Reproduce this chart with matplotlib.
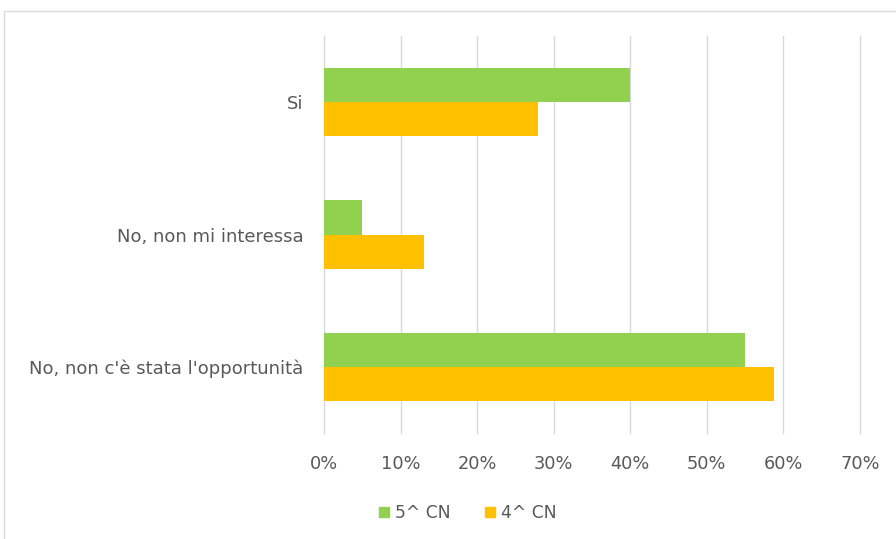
import matplotlib
matplotlib.use("Agg")
import matplotlib.pyplot as plt
from matplotlib.patches import Rectangle, Patch
import numpy as np

categories = ["Si", "No, non mi interessa", "No, non c'è stata l'opportunità"]
series_names = ["5^ CN", "4^ CN"]
values_5cn = [40, 5, 55]
values_4cn = [28, 13, 58.8]
xticks = [0, 10, 20, 30, 40, 50, 60, 70]
xtick_labels = ["0%", "10%", "20%", "30%", "40%", "50%", "60%", "70%"]

green = "#92D050"
orange = "#FFC000"
text_col = "#595959"
grid_col = "#D9D9D9"

plt.rcParams['font.family'] = ['DejaVu Sans']

fig = plt.figure(figsize=(8.96, 5.39), dpi=100)
fig.patch.set_facecolor("white")
# chart border
fig.patches.append(Rectangle((4/896, -0.01), 1.0, (539-11)/539 + 0.01, transform=fig.transFigure,
                             fill=False, edgecolor=grid_col, linewidth=1.0))

ax = fig.add_axes([324/896, (539-433)/539, (860-324)/896, (433-36)/539])
y = np.arange(len(categories))
h = 0.257
ax.barh(y - h/2, values_5cn, height=h, color=green, label=series_names[0], zorder=3)
ax.barh(y + h/2, values_4cn, height=h, color=orange, label=series_names[1], zorder=3)

ax.set_ylim(2.5, -0.5)
ax.set_xlim(0, 70)
ax.set_yticks(y)
ax.set_yticklabels(categories, fontsize=13, color=text_col)
ax.set_xticks(xticks)
ax.set_xticklabels(xtick_labels, fontsize=12.8, color=text_col)
ax.tick_params(axis='x', length=0, pad=16)
ax.tick_params(axis='y', length=0, pad=15)
ax.xaxis.grid(True, color=grid_col, linewidth=1, zorder=0)
for gl in ax.get_xgridlines():
    gl.set_clip_on(False)
for s in ax.spines.values():
    s.set_visible(False)

handles = [Patch(color=green, label=series_names[0]), Patch(color=orange, label=series_names[1])]
leg = fig.legend(handles=handles, loc='center', bbox_to_anchor=(468/896, (539-513)/539), ncol=2,
                 frameon=False, fontsize=12.3, handlelength=0.6, handleheight=0.6,
                 handletextpad=0.35, columnspacing=2.0)
for t in leg.get_texts():
    t.set_color(text_col)

fig.savefig("out.png", dpi=100)
